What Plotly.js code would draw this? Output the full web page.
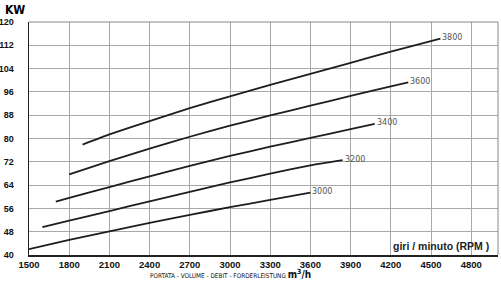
<!DOCTYPE html>
<html>
<head>
<meta charset="utf-8">
<script src="https://cdn.plot.ly/plotly-3.0.1.min.js"></script>
<style>html,body{margin:0;padding:0;background:#fff;}#chart{width:501px;height:282px;}</style>
</head>
<body>
<div id="chart"></div>
<script>
// Airflow (m3/h) vs power (kW) for each fan speed (RPM)
const rpmLabels = ['3000', '3200', '3400', '3600', '3800'];

const flow3000 = [1500, 1800, 2100, 2400, 2700, 3000, 3300, 3600];
const kw3000   = [42.0, 45.2, 48.1, 51.0, 53.8, 56.4, 58.9, 61.4];

const flow3200 = [1600, 1800, 2100, 2400, 2700, 3000, 3300, 3600, 3840];
const kw3200   = [49.6, 51.8, 55.1, 58.4, 61.7, 64.9, 67.9, 70.8, 72.6];

const flow3400 = [1700, 1800, 2100, 2400, 2700, 3000, 3300, 3600, 3900, 4080];
const kw3400   = [58.3, 59.6, 63.3, 67.0, 70.6, 74.0, 77.2, 80.2, 83.2, 85.0];

const flow3600 = [1800, 2100, 2400, 2700, 3000, 3300, 3600, 3900, 4200, 4330];
const kw3600   = [67.7, 72.2, 76.5, 80.6, 84.4, 87.9, 91.3, 94.6, 97.9, 99.3];

const flow3800 = [1900, 2100, 2400, 2700, 3000, 3300, 3600, 3900, 4200, 4570];
const kw3800   = [77.9, 81.4, 86.0, 90.4, 94.5, 98.4, 102.2, 106.0, 109.8, 114.3];

const xTicks = [1500, 1800, 2100, 2400, 2700, 3000, 3300, 3600, 3900, 4200, 4500, 4800];
const yTicks = [40, 48, 56, 64, 72, 80, 88, 96, 104, 112, 120];

const flows = [flow3000, flow3200, flow3400, flow3600, flow3800];
const kws = [kw3000, kw3200, kw3400, kw3600, kw3800];

const traces = flows.map((fx, i) => ({
  x: fx, y: kws[i], type: 'scatter', mode: 'lines',
  line: {color: '#1e1e1e', width: 1.8, shape: 'spline', smoothing: 0.4},
  name: rpmLabels[i], showlegend: false, hoverinfo: 'skip'
}));

const curveLabels = flows.map((fx, i) => ({
  x: fx[fx.length - 1], y: kws[i][kws[i].length - 1],
  xref: 'x', yref: 'y', text: rpmLabels[i], showarrow: false,
  xanchor: 'left', yanchor: 'middle', yshift: 1,
  font: {family: 'DejaVu Sans', size: 8, color: '#555'}
}));

const layout = {
  width: 501, height: 282,
  margin: {l: 28.7, r: 3, t: 21.7, b: 27, pad: 0},
  paper_bgcolor: '#fff', plot_bgcolor: '#fff',
  title: {text: '<b>KW</b>', xref: 'container', yref: 'container', x: 5/501, xanchor: 'left',
          y: 1 - 10/282, yanchor: 'middle',
          font: {family: 'DejaVu Sans Condensed', size: 12, color: '#000'}},
  xaxis: {
    range: [1500, 5000], tickvals: xTicks, ticktext: xTicks.map(String),
    showgrid: true, gridcolor: '#a8a8a8', gridwidth: 1,
    showline: true, linecolor: '#222', linewidth: 1.5,
    ticks: '', zeroline: false,
    tickfont: {family: 'Liberation Sans', size: 9.5, color: '#111', weight: 'bold'}
  },
  yaxis: {
    range: [40, 120], tickvals: yTicks, ticktext: yTicks.map(String),
    showgrid: true, gridcolor: '#a8a8a8', gridwidth: 1,
    showline: true, linecolor: '#222', linewidth: 1.5,
    ticks: '', zeroline: false, ticklabelstandoff: 12,
    tickfont: {family: 'Liberation Sans', size: 9, color: '#111', weight: 'bold'}
  },
  shapes: [
    {type: 'line', xref: 'paper', yref: 'paper', x0: 0, x1: 1, y0: 1, y1: 1, line: {color: '#888', width: 1}},
    {type: 'line', xref: 'paper', yref: 'paper', x0: 1, x1: 1, y0: 0, y1: 1, line: {color: '#888', width: 1}}
  ],
  annotations: curveLabels.concat([
    {xref: 'paper', yref: 'paper', x: (391 - 28.7) / 469.3, y: (255 - 246) / 233.3,
     xanchor: 'left', yanchor: 'middle', showarrow: false,
     text: '<b>giri / minuto (RPM )</b>',
     font: {family: 'Liberation Sans', size: 10.5, color: '#222'}},
    {xref: 'paper', yref: 'paper', x: (148 - 28.7) / 469.3, y: -(274.5 - 255) / 233.3,
     xanchor: 'left', yanchor: 'middle', showarrow: false,
     text: 'PORTATA - VOLUME - DEBIT - FORDERLEISTUNG <b><span style="font-size:10px">m<sup>3</sup>/h</span></b>',
     font: {family: 'DejaVu Sans Condensed', size: 6.4, color: '#111'}}
  ])
};

Plotly.newPlot('chart', traces, layout, {displayModeBar: false, staticPlot: true});
</script>
</body>
</html>
